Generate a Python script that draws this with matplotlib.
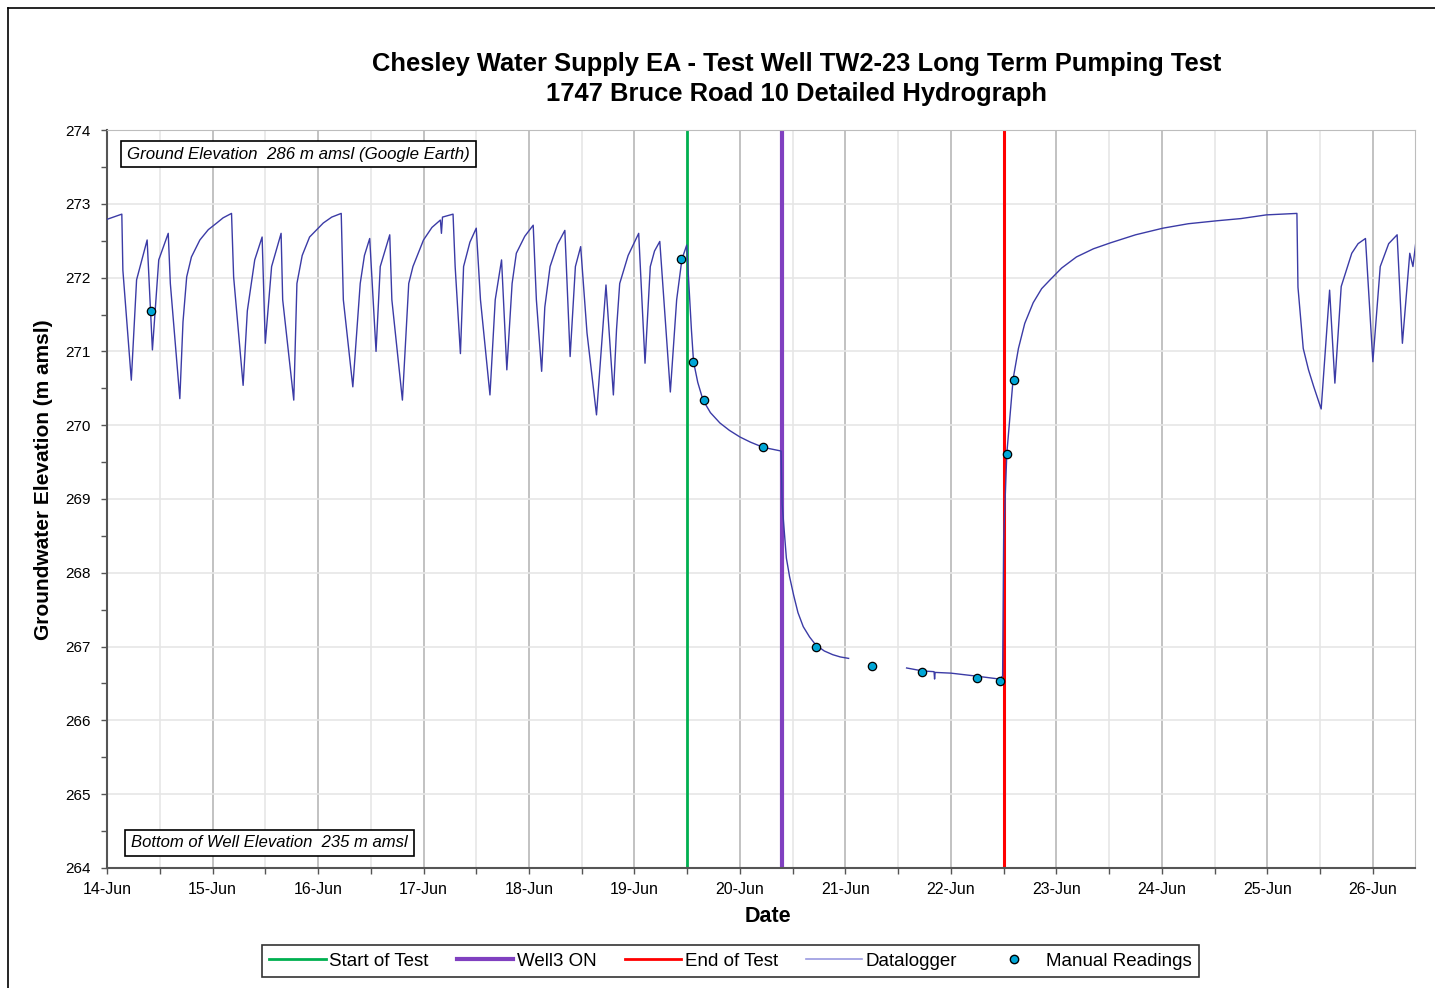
import numpy as np
import matplotlib
matplotlib.use("Agg")
import matplotlib.pyplot as plt
from matplotlib.lines import Line2D

plt.rcParams['font.family'] = ['Liberation Sans', 'DejaVu Sans']

# datalogger record (day of June, elevation m amsl); NaN = gap in record
log_day = [14.00, 14.14, 14.15, 14.23, 14.28, 14.38, 14.43, 14.49, 14.58, 14.60,
           14.69, 14.72, 14.755, 14.80, 14.88, 14.96, 15.04, 15.10, 15.18, 15.20,
           15.29, 15.33, 15.40, 15.47, 15.50, 15.56, 15.65, 15.665, 15.77, 15.80,
           15.85, 15.92, 16.05, 16.13, 16.22, 16.24, 16.33, 16.40, 16.44, 16.49,
           16.55, 16.59, 16.68, 16.70, 16.80, 16.86, 16.90, 17.00, 17.08, 17.16,
           17.17, 17.18, 17.28, 17.30, 17.35, 17.38, 17.44, 17.50, 17.54, 17.63,
           17.68, 17.74, 17.79, 17.84, 17.88, 17.96, 18.04, 18.07, 18.12, 18.15,
           18.20, 18.27, 18.34, 18.39, 18.44, 18.49, 18.55, 18.64, 18.73, 18.80,
           18.83, 18.86, 18.94, 19.04, 19.10, 19.15, 19.19, 19.24, 19.29, 19.34,
           19.40, 19.45, 19.495,
           19.54, 19.56, 19.60, 19.65, 19.72, 19.81, 19.90, 20.00, 20.10, 20.22, 20.39,
           20.40, 20.44, 20.47, 20.51, 20.55, 20.60, 20.66, 20.72, 20.80, 20.88, 20.95, 21.03,
           21.30,
           21.58, 21.73, 21.84, 21.845, 21.85, 22.00, 22.24, 22.46,
           22.49, 22.50, 22.53, 22.59, 22.64, 22.70, 22.78, 22.86, 22.94, 23.05,
           23.19, 23.35, 23.51, 23.75, 24.01, 24.25, 24.52, 24.75, 24.99, 25.28,
           25.29, 25.34, 25.39, 25.44, 25.51, 25.59, 25.64, 25.70, 25.80, 25.86,
           25.93, 26.00, 26.07, 26.15, 26.23, 26.28, 26.35, 26.38, 26.41]
log_elev = [272.79, 272.86, 272.10, 270.61, 271.97, 272.51, 271.02, 272.24, 272.60, 271.92,
            270.36, 271.40, 272.01, 272.28, 272.51, 272.65, 272.74, 272.81, 272.87, 272.01,
            270.54, 271.55, 272.24, 272.55, 271.11, 272.15, 272.60, 271.70, 270.34, 271.92,
            272.30, 272.55, 272.74, 272.82, 272.87, 271.70, 270.52, 271.92, 272.30, 272.53,
            271.00, 272.15, 272.58, 271.70, 270.34, 271.92, 272.15, 272.51, 272.68, 272.78,
            272.60, 272.82, 272.86, 272.15, 270.97, 272.15, 272.48, 272.67, 271.70, 270.41,
            271.70, 272.24, 270.75, 271.92, 272.33, 272.56, 272.71, 271.70, 270.73, 271.60,
            272.15, 272.45, 272.64, 270.93, 272.15, 272.42, 271.25, 270.14, 271.90, 270.41,
            271.30, 271.92, 272.30, 272.60, 270.84, 272.15, 272.36, 272.49, 271.47, 270.45,
            271.70, 272.25, 272.44,
            271.29, 270.86, 270.58, 270.34, 270.17, 270.03, 269.93, 269.84, 269.77, 269.70, 269.65,
            268.93, 268.20, 267.95, 267.69, 267.46, 267.27, 267.13, 267.02, 266.94, 266.89, 266.86, 266.84,
            np.nan,
            266.71, 266.67, 266.66, 266.56, 266.65, 266.64, 266.60, 266.56,
            266.60, 268.46, 269.62, 270.63, 271.04, 271.38, 271.66, 271.85, 271.97, 272.13,
            272.28, 272.39, 272.47, 272.58, 272.67, 272.73, 272.77, 272.80, 272.85, 272.87,
            271.87, 271.04, 270.75, 270.52, 270.22, 271.83, 270.57, 271.88, 272.33, 272.46,
            272.53, 270.86, 272.15, 272.46, 272.58, 271.11, 272.33, 272.15, 272.51]

# manual water level readings
man_day = [14.42, 19.44, 19.555, 19.66, 20.22, 20.72, 21.25, 21.73, 22.25, 22.465, 22.53, 22.60]
man_elev = [271.55, 272.25, 270.86, 270.34, 269.70, 267.00, 266.74, 266.65, 266.57, 266.53, 269.61, 270.61]

# events
start_test = 19.5
well3_on = 20.4
end_test = 22.5

tick_days = list(range(14, 27))
tick_labels = [f"{d}-Jun" for d in tick_days]

fig = plt.figure(figsize=(14.35, 9.88), dpi=100)
ax = fig.add_axes([0.0746, 0.1215, 0.9115, 0.7469])

# grid
for d in np.arange(14.5, 26.5, 1.0):
    ax.axvline(d, color="#e6e6e6", lw=1.2, zorder=0)
for d in range(15, 27):
    ax.axvline(d, color="#b8b8b8", lw=1.2, zorder=0)
for e in range(265, 274):
    ax.axhline(e, color="#e6e6e6", lw=1.2, zorder=0)

ax.axvline(start_test, color="#00b050", lw=2, zorder=2)
ax.axvline(well3_on, color="#8040c0", lw=3, zorder=2)
ax.axvline(end_test, color="#ff0000", lw=2.2, zorder=2)

ax.plot(log_day, log_elev, color="#3b3ba6", lw=1.0, zorder=3)
ax.plot(man_day, man_elev, linestyle="none", marker="o", markersize=6,
        markerfacecolor="#00a6d6", markeredgecolor="black", markeredgewidth=0.9, zorder=4)

ax.set_xlim(14, 26.4)
ax.set_ylim(264, 274)
ax.set_xticks(tick_days)
ax.set_xticklabels(tick_labels, fontsize=11.5)
ax.set_xticks(np.arange(14.5, 26.5, 1.0), minor=True)
ax.set_yticks(range(264, 275))
ax.set_yticklabels([str(v) for v in range(264, 275)], fontsize=11)
ax.set_yticks(np.arange(264.5, 274, 1.0), minor=True)
ax.tick_params(which="both", direction="out", length=4, width=1, color="#555555")
ax.tick_params(axis="y", pad=8)
ax.tick_params(axis="x", pad=6)

for s in ["top", "right"]:
    ax.spines[s].set_color("#bdbdbd")
for s in ["left", "bottom"]:
    ax.spines[s].set_color("#555555")
    ax.spines[s].set_linewidth(1.5)

ax.text(0.0153, 0.9675, "Ground Elevation  286 m amsl (Google Earth)", transform=ax.transAxes,
        fontsize=12.2, style="italic", ha="left", va="center", zorder=6,
        bbox=dict(boxstyle="square,pad=0.35", facecolor="white", edgecolor="black", lw=1.2))
ax.text(0.0183, 0.0339, "Bottom of Well Elevation  235 m amsl", transform=ax.transAxes,
        fontsize=12, style="italic", ha="left", va="center", zorder=6,
        bbox=dict(boxstyle="square,pad=0.35", facecolor="white", edgecolor="black", lw=1.2))

fig.text(0.555, 0.935, "Chesley Water Supply EA - Test Well TW2-23 Long Term Pumping Test",
         ha="center", va="center", fontsize=18.4, fontweight="bold")
fig.text(0.555, 0.905, "1747 Bruce Road 10 Detailed Hydrograph",
         ha="center", va="center", fontsize=18.4, fontweight="bold")
fig.text(0.030, 0.514, "Groundwater Elevation (m amsl)", rotation=90,
         ha="center", va="center", fontsize=15, fontweight="bold")
fig.text(0.535, 0.072, "Date", ha="center", va="center", fontsize=15.5, fontweight="bold")

handles = [Line2D([], [], color="#00b050", lw=2),
           Line2D([], [], color="#8040c0", lw=3),
           Line2D([], [], color="#ff0000", lw=2),
           Line2D([], [], color="#9a9ae0", lw=1.2),
           Line2D([], [], linestyle="none", marker="o", markersize=6,
                  markerfacecolor="#00a6d6", markeredgecolor="black")]
labels = ["Start of Test", "Well3 ON", "End of Test", "Datalogger", "Manual Readings"]
leg = fig.legend(handles, labels, loc="center", bbox_to_anchor=(0.509, 0.027), ncol=5,
                 fontsize=13.5, frameon=True, fancybox=False, edgecolor="black",
                 handlelength=3, handletextpad=0.2, columnspacing=1.5, borderpad=0.4)
leg.get_frame().set_linewidth(1.2)

# outer frame around the chart
fig.add_artist(Line2D([8 / 1435, 8 / 1435], [0, 1 - 8 / 988], transform=fig.transFigure,
                      color="black", lw=1.2))
fig.add_artist(Line2D([8 / 1435, 1], [1 - 8 / 988, 1 - 8 / 988], transform=fig.transFigure,
                      color="black", lw=1.2))

fig.savefig("out.png", dpi=100)
